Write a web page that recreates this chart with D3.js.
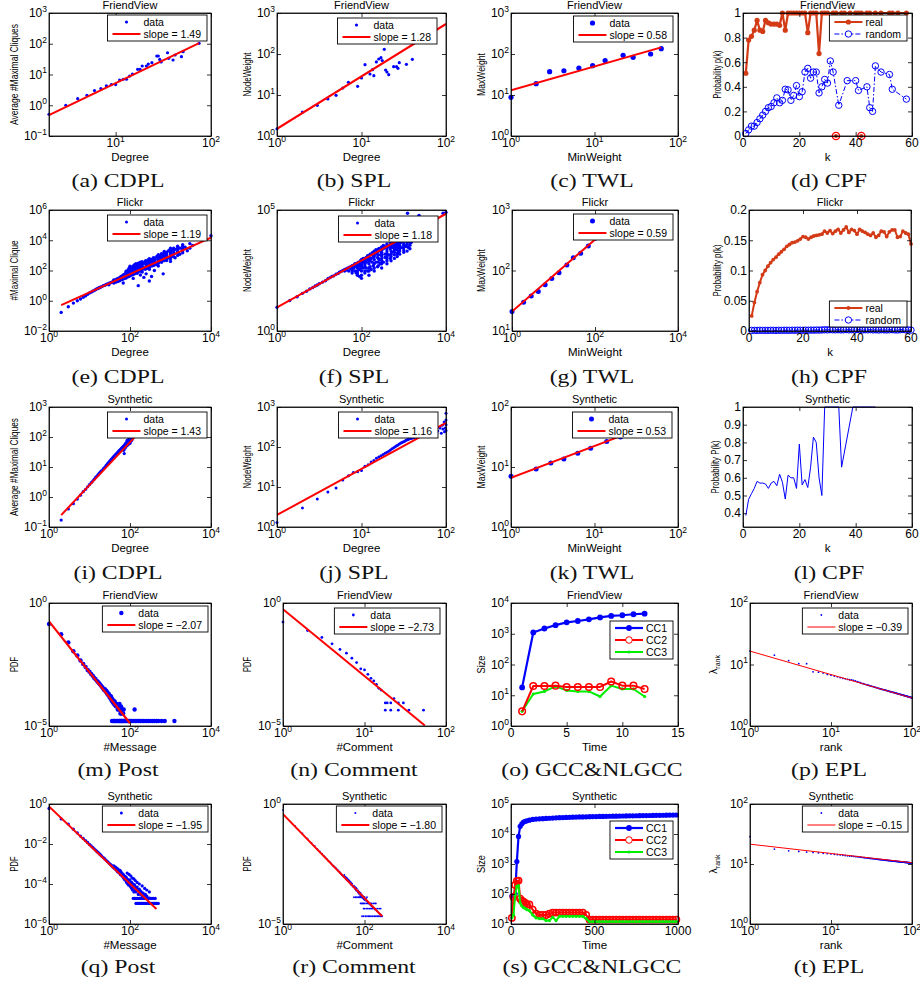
<!DOCTYPE html>
<html><head><meta charset="utf-8">
<script src="https://cdn.jsdelivr.net/npm/d3@7/dist/d3.min.js"></script>
<style>html,body{margin:0;padding:0;background:#fff;}</style>
</head><body>
<script>
// ================= DATA =================
const rowTitles=["FriendView","Flickr","Synthetic","FriendView","Synthetic"];
const captions=["(a) CDPL","(b) SPL","(c) TWL","(d) CPF","(e) CDPL","(f) SPL","(g) TWL","(h) CPF","(i) CDPL","(j) SPL","(k) TWL","(l) CPF","(m) Post","(n) Comment","(o) GCC&NLGCC","(p) EPL","(q) Post","(r) Comment","(s) GCC&NLGCC","(t) EPL"];
const slopeLabels={a:"slope = 1.49",b:"slope = 1.28",c:"slope = 0.58",e:"slope = 1.19",f:"slope = 1.18",g:"slope = 0.59",i:"slope = 1.43",j:"slope = 1.16",k:"slope = 0.53",m:"slope = \u22122.07",n:"slope = \u22122.73",p:"slope = \u22120.39",q:"slope = \u22121.95",r:"slope = \u22121.80",t:"slope = \u22120.15"};

// (a)
const aDegree=[2,3,4,5,6,7,8,9,10,11,12,13,14,15,17,18,19,21,22,24,27,28,29,30,35,36,40,42,49,51,75];
const aCliques=[0.51,1.0,1.64,2.1,3.0,3.5,4.3,4.7,4.7,6.6,7.0,7.0,8.9,10.4,14.7,14.7,18.9,18.9,21.9,24.3,40,40,31,25.5,51,33.6,29.6,43,38,55,103];
const aFit=[[2,0.48],[75,105]];
// (b)
const bDegree=[1,2,3,4,5,6,7,9,10,11,12.6,13.5,14,15,16,17,17.6,18.6,19.3,20,21,24,26,27,28,34,40];
const bWeight=[1.5,3.85,5.6,8,9.8,14.8,20.4,16.3,26,55,32.5,41.5,29.6,64,75.5,81.5,69,130,40.7,36.4,31.3,49,49,44.7,61.5,56,74];
const bFit=[[1,1.5],[100,540]];
// (c)
const cMin=[1,2,2.9,4.3,6.5,9.5,13.4,22,29,47,63];
const cMax=[8.8,18.9,37,39,45.6,52,69,93,83,100,135];
const cFit=[[1,13],[63,145]];
// (d)
const dRealK=[1,2,3,4,5,6,7,8,9,10,11,12,13,14,15,16,17,18,19,20,21,22,23,24,25,26,27,28,29,30,32,33,35,36,38,40,41,42,44,45,47,49,52,53,55,58];
const dRealP=[0.51,0.78,0.81,0.86,0.94,0.86,0.85,0.94,0.92,0.91,0.91,0.91,0.9,1,0.86,1,1,1,1,1,1,1,0.84,1,1,1,0.67,1,1,1,1,1,1,1,1,1,1,1,1,1,1,1,1,1,1,1];
const dZeroK=[33,42];
const dRandK=[1,2,3,4,5,6,7,8,9,10,11,12,13,14,15,16,17,18,19,20,21,22,23,24,25,26,27,28,29,30,31,32,34,37,40,41,44,45,46,47,49,52,53,58];
const dRandP=[0.02,0.05,0.08,0.08,0.11,0.14,0.17,0.2,0.23,0.24,0.27,0.31,0.27,0.29,0.38,0.375,0.29,0.33,0.41,0.32,0.36,0.52,0.55,0.47,0.52,0.52,0.35,0.4,0.46,0.43,0.61,0.52,0.25,0.45,0.45,0.37,0.4,0.23,0.2,0.57,0.52,0.5,0.38,0.3];
// (e)
const ePts=[[2,0.17],[3,0.4],[4,0.7],[5,1.0],[6,1.3],[7,1.7],[8,2.1],[9,2.7],[10,3.3],[11,3.7],[12,4.3],[13,4.8],[14,5.3],[15,6.0],[16,6.5],[17,7],[18,7.5],[19,8],[20,8.6],[22,9.8],[24,10.5],[26,12],[28,13],[30,14],[30,11.5],[32,15],[34,16],[36,17],[38,18],[68,15],
[40,15],[40,22],[45,17],[45,26],[50,19],[50,28],[55,21],[55,33],[60,24],[60,40],[65,26],[65,45],[70,30],[70,52],[70,38],[75,32],[75,60],[80,35],[80,90],[80,50],[85,40],[85,70],[90,45],[90,110],[90,60],[95,42],[95,140],[95,80],[100,45],[100,190],[100,100],[100,65],[110,50],[110,160],[110,80],[120,55],[120,200],[120,120],[130,60],[130,240],[130,90],[140,70],[140,170],[140,280],[150,65],[150,120],[150,220],[160,10],[160,85],[160,300],[170,95],[170,180],[180,110],[180,350],[190,90],[190,250],[200,130],[200,380],[200,80],[220,150],[220,300],[240,120],[240,420],[260,180],[260,320],[280,140],[280,500],[300,200],[300,600],[300,120],[340,40],[340,260],[340,450],[380,220],[380,700],[420,300],[420,550],[460,250],[460,850],[500,380],[500,1100],[500,200],[550,600],[550,900],[600,350],[600,1300],[660,60],[660,500],[660,1000],[700,800],[700,1800],[800,450],[800,1300],[900,700],[900,2000],[1000,400],[1000,1200],[1000,3000],[1100,900],[1100,2200],[1200,1500],[1200,3000],[1300,700],[1300,2500],[1500,1800],[1500,4000],[1700,1200],[1700,3000],[2000,2500],[2000,5000],[2300,3500],[2600,2000],[3000,6000],[3000,3000],[3500,4500],[10000,20000]];
const ePts2=[[40,16],[40,18],[40,20],[40,24],[50,20],[50,23],[50,26],[50,30],[60,25],[60,30],[60,35],[70,28],[70,34],[70,42],[70,48],[80,32],[80,40],[80,45],[80,60],[80,70],[90,38],[90,48],[90,55],[90,70],[90,85],[100,50],[100,55],[100,75],[100,85],[100,120],[100,150],[120,60],[120,70],[120,90],[120,100],[120,140],[120,170],[140,75],[140,90],[140,110],[140,130],[140,200],[140,240],[160,90],[160,100],[160,130],[160,160],[160,200],[160,250],[180,100],[180,130],[180,160],[180,200],[180,250],[180,300],[200,110],[200,150],[200,190],[200,250],[200,300],[250,140],[250,180],[250,230],[250,280],[250,350],[250,420],[300,160],[300,250],[300,300],[300,350],[300,450],[300,500],[350,200],[350,280],[350,350],[350,420],[350,550],[400,230],[400,330],[400,420],[400,500],[400,650],[500,300],[500,450],[500,550],[500,700],[500,850],[600,400],[600,550],[600,700],[600,900],[600,1100],[700,450],[700,600],[700,1000],[700,1300],[700,1500],[800,550],[800,800],[800,1000],[800,1600],[1000,600],[1000,800],[1000,1500],[1000,2000],[1000,2500],[1200,800],[1200,1200],[1200,2000],[1200,2500],[1500,1000],[1500,1500],[1500,2500],[1500,3000],[2000,1500],[2000,2000],[2000,3000],[2000,4000],[120,30],[180,50],[250,60],[400,100],[300,20],[220,35]];
const eFit=[[2,0.52],[10000,15000]];
// (f)
const fPts=[[1,9.5],[2,18],[3,26],[4,36],[5,44],[6,55],[7,62],[8,72],[9,80],[10,90],[12,105],[14,120],[16,145],[18,160],[20,180],[22,190],[25,220],[28,240],[30,270],[33,290],[36,320],[40,350],[40,300],[45,380],[45,330],[50,420],[50,300],[55,450],[55,380],[60,500],[60,350],[60,250],[65,520],[65,400],[70,600],[70,300],[70,450],[75,550],[75,250],[80,650],[80,400],[80,200],[85,500],[85,700],[90,350],[90,600],[90,180],[95,800],[95,450],[100,900],[100,600],[100,300],[100,150],[110,700],[110,400],[110,1000],[120,850],[120,250],[120,550],[130,1100],[130,700],[130,400],[140,900],[140,300],[140,1300],[150,600],[150,1100],[150,200],[160,1500],[160,800],[160,450],[170,1000],[170,350],[180,1700],[180,700],[190,1200],[190,500],[200,2000],[200,900],[200,300],[220,1500],[220,700],[220,2300],[240,1100],[240,450],[240,1800],[260,2600],[260,900],[280,1400],[280,600],[280,2200],[300,3000],[300,1800],[300,1000],[300,400],[330,2500],[330,700],[330,3400],[360,1500],[360,2800],[360,1100],[400,4000],[400,2000],[400,800],[440,3200],[440,1400],[480,4500],[480,2500],[480,1000],[520,3500],[520,1800],[560,5000],[560,2800],[600,4000],[600,1400],[650,6000],[650,3000],[700,4500],[700,2200],[750,5500],[750,1800],[800,6500],[800,3500],[850,4500],[900,7000],[900,2800],[950,5500],[1000,7500],[1000,4000],[1000,2200],[1100,6000],[1100,3200],[1200,7000],[1200,4500],[1300,5500],[1300,2800],[1400,6500],[1500,4500],[1600,5500],[1230,73000],[2300,60000],[8500,73000],[10000,80000]];
const fPts2=[[60,300],[60,400],[60,450],[80,250],[80,300],[80,500],[80,600],[100,200],[100,400],[100,500],[100,700],[100,800],[120,300],[120,450],[120,650],[120,750],[120,1000],[150,300],[150,400],[150,800],[150,900],[150,1300],[200,400],[200,600],[200,1200],[200,1500],[200,1700],[250,500],[250,700],[250,1000],[250,1400],[250,2000],[250,2400],[300,600],[300,800],[300,1300],[300,1500],[300,2200],[300,2600],[400,600],[400,1000],[400,1200],[400,1600],[400,2500],[400,3000],[400,3500],[500,800],[500,1200],[500,1500],[500,2000],[500,3000],[500,4000],[600,1000],[600,1800],[600,2200],[600,2500],[600,3000],[600,3500],[600,5000],[700,1200],[700,1600],[700,2800],[700,3500],[700,4000],[700,5000],[700,6000],[800,1500],[800,2000],[800,2500],[800,3000],[800,4000],[800,5000],[1000,1800],[1000,2800],[1000,3500],[1000,5000],[1000,6000],[1200,2000],[1200,3000],[1200,3800],[1200,5500],[1200,6500],[1400,2500],[1400,3500],[1400,4500],[1400,5500]];
const fFit=[[1,9.5],[10000,70000]];
// (g)
const gMin=[1,1.9,2.9,4.3,6.3,9.1,13.6,21,30,45,69,100];
const gMax=[21,30,38,45,58,74,92,123,163,192,254,340];
const gFit=[[1,21],[250,560]];
// (h)
const hK=d3.range(1,61);
const hReal=[0.025,0.047,0.065,0.08,0.093,0.1,0.107,0.113,0.118,0.122,0.127,0.131,0.135,0.14,0.143,0.146,0.147,0.149,0.152,0.156,0.155,0.152,0.155,0.157,0.158,0.159,0.16,0.165,0.162,0.166,0.161,0.165,0.168,0.162,0.167,0.172,0.163,0.168,0.166,0.16,0.168,0.165,0.163,0.16,0.158,0.162,0.155,0.158,0.165,0.164,0.156,0.164,0.167,0.167,0.155,0.156,0.165,0.162,0.16,0.144];
const hRand=[0.001,0.001,0.001,0.0012,0.001,0.0011,0.001,0.0012,0.0011,0.001,0.0012,0.0011,0.0013,0.0012,0.0011,0.0013,0.0012,0.0014,0.0013,0.0012,0.0014,0.0013,0.0015,0.0014,0.0016,0.0015,0.0017,0.002,0.0018,0.0022,0.002,0.0019,0.0021,0.0018,0.002,0.0023,0.0019,0.0021,0.0018,0.0024,0.002,0.0017,0.0021,0.0019,0.0022,0.0018,0.002,0.0016,0.0021,0.0019,0.0017,0.002,0.0022,0.0018,0.0016,0.0021,0.0025,0.0019,0.0017,0.0015];
// (i)
const iPts=[[2,0.17],[3,0.4],[4,0.6],[5,0.85],[6,1.15],[7,1.5],[8,1.8],[9,2.2],[10,2.6],[11,3.0],[12,3.4],[13,3.9],[14,4.4],[15,4.9],[16,5.4],[17,5.9],[18,6.5],[19,7],[20,7.6],[22,8.8],[24,10],[26,11.5],[28,13],[30,14.5],[32,16],[34,17.5],[36,19],[38,21],[40,22.5],[42,24],[44,26],[46,27.5],[48,29],[50,31],[52,33],[54,35],[56,36],[58,38],[60,40],[60,35],[62,42],[64,44],[64,38],[66,46],[68,48],[68,40],[70,50],[70,44],[72,52],[72,28],[74,55],[74,46],[76,57],[76,50],[78,60],[78,52],[80,62],[80,55],[82,65],[82,57],[84,68],[84,60],[86,70],[86,62],[88,73],[88,64],[90,76],[90,66],[92,80],[92,70],[94,82],[94,72],[96,85],[96,60],[98,88],[98,75],[100,92],[100,80],[100,70],[105,95],[105,85],[110,100],[110,90],[115,110],[120,120],[125,130],[130,140],[70,36],[75,42],[80,48],[85,52],[90,56],[95,64],[100,62],[105,72],[110,78],[115,90],[120,100],[85,78],[95,92],[105,110]];
const iFit=[[2,0.25],[150,120]];
// (j)
const jPts=[[1,1.3],[2,3.0],[3,5.0],[4,7.5],[5,9.5],[6,15],[7,19],[8,23],[9,24],[10,26],[11,33],[12,36],[13,42],[14,46],[15,52],[16,56],[17,60],[18,65],[19,70],[20,74],[21,78],[22,84],[23,90],[24,96],[25,102],[26,108],[27,113],[28,118],[29,124],[30,130],[31,134],[32,138],[33,144],[34,150],[35,152],[36,156],[37,160],[38,162],[39,165],[40,168],[42,172],[44,178],[46,182],[48,190],[50,195],[52,200],[55,190],[58,210],[60,200],[62,215],[65,220],[68,185],[70,230],[75,210],[80,250],[85,300],[88,220],[90,350],[92,280],[95,420],[96,240],[98,300],[100,700],[100,470],[100,360],[100,260]];
const jFit=[[1,2],[100,400]];
// (k)
const kMin=[1,2,3,4.3,6.3,9,14,20.5];
const kMax=[7.0,9.3,11.7,13.6,17,20.6,26.5,31.5];
const kFit=[[1,6.6],[40,46.7]];
// (l)
const lK=[1,2,3,4,5,6,7,8,9,10,11,12,13,14,15,16,17,18,19,20,21,22,23,24,25,26,27,28,29,30,31,32,33,34,35,39,40,41,42,43,44,45,46,47];
const lP=[0.387,0.478,0.51,0.54,0.58,0.57,0.57,0.565,0.54,0.57,0.58,0.555,0.62,0.575,0.48,0.615,0.6,0.6,0.54,0.79,0.56,0.59,0.545,0.66,0.83,0.8,0.6,0.5,1,1,1,1,1,1,0.66,1,1,1,1,1,1,1,1,1];
// (m)
const mPts=[[1,0.14],[2,0.054],[3,0.025],[4,0.011],[5,0.0073],[6,0.0046],[7,0.0033],[8,0.0025],[9,0.0019],[10,0.0016],[11,0.0013],[12,0.0011],[13,0.00092],[14,0.00082],[15,0.0007],[16,0.00063],[17,0.00056],[18,0.0005],[19,0.00045],[20,0.0004],[21,0.00037],[22,0.00033],[23,0.00029],[24,0.00031],[25,0.00025],[26,0.00027],[27,0.00021],[28,0.00023],[29,0.00018],[30,0.0002],[31,0.00015],[32,0.00017],[33,0.00013],[34,0.00016],[35,0.00011],[36,0.00013],[37,0.0001],[38,0.00009],[39,0.00011],[40,0.00008],[42,0.0001],[43,0.00007],[44,0.00008],[45,0.000063],[47,0.000079],[48,0.000063],[50,0.000047],[52,0.000063],[53,0.000047],[55,0.000079],[57,0.000047],[58,0.000032],[60,0.000063],[62,0.000032],[65,0.000047],[68,0.000032],[70,0.000047],[130,0.000047],
[36,1.6e-5],[39,1.6e-5],[41,1.6e-5],[43,1.6e-5],[46,1.6e-5],[49,1.6e-5],[51,1.6e-5],[54,1.6e-5],[56,1.6e-5],[59,1.6e-5],[61,1.6e-5],[63,1.6e-5],[66,1.6e-5],[69,1.6e-5],[72,1.6e-5],[75,1.6e-5],[80,1.6e-5],[85,1.6e-5],[90,1.6e-5],[95,1.6e-5],[100,1.6e-5],[110,1.6e-5],[120,1.6e-5],[135,1.6e-5],[150,1.6e-5],[165,1.6e-5],[180,1.6e-5],[200,1.6e-5],[220,1.6e-5],[250,1.6e-5],[280,1.6e-5],[320,1.6e-5],[360,1.6e-5],[400,1.6e-5],[450,1.6e-5],[500,1.6e-5],[600,1.6e-5],[720,1.6e-5],[1250,1.6e-5]];
const mFit=[[1,0.18],[100,1.3e-5]];
// (n)
const nPts=[[1,0.168],[2,0.076],[3,0.04],[4,0.022],[5,0.013],[6,0.0091],[7,0.0057],[8,0.0038],[9,0.0021],[10,0.0019],[11,0.00126],[12,0.00087],[13,0.00068],[14,0.00049],[15,0.00034],[16,0.00029],[18,0.000087],[19,0.000087],[21,0.000087],[23,0.00013],[26,0.000087],[30,0.000087],[18,0.000044],[21,0.000044],[26,0.000044],[35,0.000044],[53,0.000044]];
const nFit=[[1,0.56],[55,1.05e-5]];
// (o)
const oTime=[1,2,3,4,5,6,7,8,9,10,11,12];
const oCC1=[18,1100,1480,1900,2350,2600,2950,3400,3800,4000,4300,4500];
const oCC2=[3,20,20,20.5,18.6,18.6,18.6,18.6,28,20.5,20.5,16];
const oCC3=[3,11,13.3,19.5,14.4,13.3,13.3,9.1,20.5,16,16,9.1];
// (p)
const pLambda=[16.5,14.2,11.6,10.3,10.3,7.6,7.5,7.3,6.9,6.7,6.5,6.3,6.1,5.95,5.85,5.75,5.65,5.6,5.5,5.4,5.25,5.15,5.05,4.95,4.87,4.8,4.72,4.65,4.6,4.53,4.47,4.42,4.37,4.32,4.27,4.22,4.17,4.13,4.09,4.05,4.01,3.98,3.94,3.91,3.88,3.85,3.82,3.79,3.76,3.73,3.7,3.67,3.65,3.62,3.6,3.58,3.55,3.53,3.51,3.49,3.47,3.45,3.43,3.41,3.39,3.37,3.35,3.33,3.31,3.29,3.27,3.26,3.24,3.22,3.21,3.19,3.18,3.16,3.15,3.13,3.12,3.1,3.09,3.07,3.06,3.05,3.03,3.02,3.01,2.99,2.98,2.97,2.96,2.94,2.93,2.92,2.91,2.9,2.89,2.88];
const pFit=[[1,16.5],[100,2.85]];
// (q)
const qPts=[[1,0.6],[2,0.18],[3,0.1],[4,0.055],[5,0.036],[6,0.025],[7,0.019],[8,0.015],[9,0.012],[10,0.0095],[11,0.008],[12,0.0068],[13,0.0058],[14,0.005],[15,0.0044],[16,0.0039],[17,0.0035],[18,0.0031],[19,0.0028],[20,0.0025],[22,0.0021],[24,0.0018],[26,0.0015],[28,0.0013],[30,0.00115],[32,0.001],[34,0.0009],[36,0.0008],[38,0.0007],[40,0.00065],[40,0.0008],[42,0.0006],[44,0.00055],[44,0.0007],[46,0.0005],[48,0.00045],[48,0.0006],[50,0.0004],[50,0.00055],[52,0.0004],[55,0.00035],[55,0.0005],[58,0.0003],[58,0.00045],[60,0.00028],[60,0.0004],[62,0.00035],[65,0.00025],[65,0.00032],[68,0.00022],[68,0.0003],[70,0.0002],[70,0.00027],[72,0.00018],[75,0.00024],[75,0.00016],[78,0.0002],[80,0.00015],[80,0.00022],[82,0.00012],[85,0.00018],[85,0.00013],[88,0.0001],[90,0.00016],[90,0.00012],[92,0.00009],[95,0.00014],[95,0.0001],[100,0.00012],[100,0.00008],[100,0.00016],[105,0.00007],[105,0.0001],[110,0.00012],[110,0.00006],[115,0.00009],[115,0.00005],[120,0.0001],[120,0.00007],[125,0.00004],[125,0.00008],[130,0.00006],[130,0.00009],[135,0.00005],[140,0.00007],[140,0.00004],[145,0.00006],[150,0.000045],[150,0.00007],[160,0.00005],[160,0.00003],[170,0.00004],[170,0.000055],[180,0.00003],[180,0.000045],[190,0.00004],[200,0.00003],[200,0.000025],[210,0.000035],[220,0.00003],[230,0.000025],[240,0.00003],[250,0.00002],[260,0.000025],[280,0.00002],[300,0.00002],
[85,0.00035],[95,0.0003],[105,0.00025],[115,0.0002],[125,0.00018],[135,0.00015],[150,0.00012],[170,0.0001],[200,0.00008],[230,0.00006],[260,0.00005],[300,0.00004],
[140,1.07e-5],[150,1.07e-5],[160,1.07e-5],[170,1.07e-5],[180,1.07e-5],[190,1.07e-5],[200,1.07e-5],[215,1.07e-5],[230,1.07e-5],[245,1.07e-5],[260,1.07e-5],[280,1.07e-5],[300,1.07e-5],[320,1.07e-5],[340,1.07e-5],[360,1.07e-5],[380,1.07e-5],[400,1.07e-5],[430,1.07e-5],[460,1.07e-5],[500,1.07e-5],
[120,1.9e-5],[130,1.9e-5],[140,1.9e-5],[155,1.9e-5],[170,1.9e-5],[185,1.9e-5],[200,1.9e-5],[220,1.9e-5],[240,1.9e-5],[260,1.9e-5],[290,1.9e-5],[320,1.9e-5],[350,1.9e-5],[380,1.9e-5],[420,1.9e-5]];
const qFit=[[1,0.76],[450,5.6e-6]];
// (r)
const rPts=[[1,0.56],[2,0.12],[3,0.06],[4,0.036],[5,0.024],[6,0.018],[7,0.013],[8,0.0105],[9,0.0085],[10,0.007],[11,0.006],[12,0.005],[13,0.0044],[14,0.0039],[15,0.0034],[16,0.003],[17,0.0027],[18,0.0025],[19,0.0023],[20,0.0021],[21,0.0019],[22,0.0018],[23,0.0016],[24,0.0015],[25,0.0014],[26,0.0013],[27,0.0012],[28,0.0011],[29,0.00105],[30,0.001],[32,0.0009],[32,0.0011],[34,0.0008],[34,0.00095],[36,0.00072],[36,0.00085],[38,0.00065],[38,0.0008],[40,0.0006],[40,0.0007],[42,0.00055],[42,0.00065],[44,0.0005],[44,0.0006],[46,0.00045],[46,0.00055],[48,0.00042],[48,0.0005],[50,0.0004],[50,0.00047],[52,0.00036],[55,0.00034],[55,0.0004],[58,0.0003],[58,0.00036],[60,0.00028],[62,0.00033],[62,0.00025],[65,0.00024],[65,0.0003],[68,0.00022],[70,0.00025],[70,0.0002],[73,0.00018],[75,0.00022],[78,0.00016],[80,0.0002],[80,0.00014],[85,0.00017],[85,0.00013],[90,0.00015],[90,0.00012],[95,0.00011],[100,0.00013],[100,0.0001],[110,0.00009],[110,0.00011],[120,0.00008],[130,0.00007],[140,0.00006],[150,0.000055],[160,0.00005],[170,0.000045],[180,0.00004],[200,0.000035],[220,0.00003],[250,0.000025],
[55,0.00013],[60,0.00013],[65,0.00013],[70,0.00013],[75,0.00013],[80,0.00013],[90,0.00013],[100,0.00013],[115,0.00013],
[80,7.2e-5],[85,7.2e-5],[90,7.2e-5],[95,7.2e-5],[100,7.2e-5],[110,7.2e-5],[120,7.2e-5],[130,7.2e-5],[140,7.2e-5],[150,7.2e-5],[165,7.2e-5],[180,7.2e-5],[190,7.2e-5],
[95,4.4e-5],[100,4.4e-5],[110,4.4e-5],[120,4.4e-5],[130,4.4e-5],[140,4.4e-5],[150,4.4e-5],[160,4.4e-5],[175,4.4e-5],[190,4.4e-5],[210,4.4e-5],[230,4.4e-5],[250,4.4e-5],
[87,2.1e-5],[95,2.1e-5],[105,2.1e-5],[115,2.1e-5],[125,2.1e-5],[135,2.1e-5],[145,2.1e-5],[160,2.1e-5],[175,2.1e-5],[190,2.1e-5],[205,2.1e-5],[220,2.1e-5],[240,2.1e-5],[255,2.1e-5],[270,2.1e-5]];
const rFit=[[1,0.38],[270,2.1e-5]];
// (s)
const sTime=[5,15,25,35,45,55,65,75,85,95,110,130,150,170,190,210,230,250,270,290,310,330,350,370,390,410,430,450,470,490,510,530,550,570,590,610,630,650,670,690,710,730,750,770,790,810,830,850,870,890,910,930,950,970,990];
const sCC1=[85,90,100,1200,8300,18000,22000,25000,26500,27500,29000,30500,31500,32000,32500,33000,33500,34000,34500,35000,35300,35600,36000,36300,36600,37000,37200,37500,37700,38000,38200,38400,38600,38800,39000,39200,39400,39600,39800,40000,40200,40400,40600,40800,41000,41200,41400,41600,41800,42000,42200,42400,42600,42800,43000];
const sCC2=[16,80,200,270,280,70,60,55,50,45,45,30,22,20,20,20,22,24,24,24,24,24,24,24,24,24,24,20,14,14,14,14,14,14,14,14,14,14,14,14,14,14,14,14,14,14,14,14,14,14,14,14,14,14,14];
const sCC3=[16,20,90,180,190,50,40,35,33,30,28,20,16,15,15,13,13,17,13,18,18,18,18,18,18,18,18,15,12,12,12,12,12,12,12,12,12,12,12,12,12,12,12,12,12,12,12,12,12,12,12,12,12,12,12];
// (t)
const tLambda=[28.7,17.7,16.6,16.2,15.8,15.6,15.4,15.1,14.9,14.7,14.5,14.3,14.15,14.0,13.85,13.7,13.6,13.5,13.4,13.3,13.2,13.1,13.0,12.9,12.8,12.72,12.64,12.56,12.49,12.42,12.36,12.3,12.24,12.18,12.12,12.07,12.02,11.97,11.92,11.87,11.82,11.78,11.74,11.7,11.66,11.62,11.58,11.54,11.5,11.47,11.44,11.41,11.38,11.35,11.32,11.29,11.26,11.23,11.2,11.17,11.14,11.11,11.08,11.06,11.04,11.01,10.99,10.97,10.94,10.92,10.9,10.88,10.86,10.84,10.82,10.8,10.78,10.76,10.74,10.72,10.7,10.68,10.66,10.64,10.63,10.61,10.59,10.58,10.56,10.55,10.53,10.51,10.5,10.48,10.47,10.45,10.44,10.42,10.41,10.4];
const tFit=[[1,21.4],[100,10.5]];

// ================= DRAWING =================
const W=920,H=989;
const SANS="'Liberation Sans', Arial, Helvetica, sans-serif";
const SERIF="'Liberation Serif', 'Times New Roman', serif";
const BLUE="#0000ff", RED="#ff0000", GREEN="#00ee00", REAL="#d33a16";
const FS=12, LFS=10.5, LROW=12;
const svg=d3.select('body').append('svg').attr('width',W).attr('height',H).attr('font-family',SANS);
svg.append('rect').attr('width',W).attr('height',H).attr('fill','#fff');
const rowT=[13,210,407,603,804], rowB=[136,331,527,726,924];
const capX=[118,354,592,829], capY=[187,383,579,776,973];
let clipN=0;

function makePanel(c){
  c.T=rowT[c.row]; c.B=rowB[c.row];
  const x=(c.xt==='log'?d3.scaleLog():d3.scaleLinear()).domain(c.xd).range([c.L,c.R]);
  const y=(c.yt==='log'?d3.scaleLog():d3.scaleLinear()).domain(c.yd).range([c.B,c.T]);
  const root=svg.append('g');
  const id='clip'+(clipN++);
  root.append('clipPath').attr('id',id).append('rect').attr('x',c.L).attr('y',c.T).attr('width',c.R-c.L).attr('height',c.B-c.T);
  const marks=root.append('g');
  const clipped=root.append('g').attr('clip-path',`url(#${id})`);
  const over=root.append('g');
  const frame=root.append('g');
  const leg=root.append('g');
  const p={c,x,y,marks,clipped,over,frame,leg};
  drawFrame(p);
  return p;
}
function expLabel(t,v){
  const e=Math.round(Math.log10(v));
  t.append('tspan').text('10');
  t.append('tspan').attr('font-size',8.5).attr('dy',-5.5).text(e<0?'\u2212'+(-e):String(e));
}
function drawFrame(p){
  const {c,x,y}=p, g=p.frame, tk=4;
  const st=s=>{s.selectAll('path,line').attr('stroke','#000').attr('stroke-width',0.8);s.selectAll('text').remove();};
  g.append('g').attr('transform',`translate(0,${c.B})`).call(d3.axisBottom(x).tickValues(c.xk).tickSizeInner(-tk).tickSizeOuter(0)).call(st);
  g.append('g').attr('transform',`translate(0,${c.T})`).call(d3.axisTop(x).tickValues(c.xk).tickSizeInner(-tk).tickSizeOuter(0)).call(st);
  g.append('g').attr('transform',`translate(${c.L},0)`).call(d3.axisLeft(y).tickValues(c.yk).tickSizeInner(-tk).tickSizeOuter(0)).call(st);
  g.append('g').attr('transform',`translate(${c.R},0)`).call(d3.axisRight(y).tickValues(c.yk).tickSizeInner(-tk).tickSizeOuter(0)).call(st);
  g.append('rect').attr('x',c.L).attr('y',c.T).attr('width',c.R-c.L).attr('height',c.B-c.T).attr('fill','none').attr('stroke','#000').attr('stroke-width',0.8);
  c.xk.forEach((v,i)=>{
    const t=g.append('text').attr('x',x(v)).attr('y',c.B+11).attr('text-anchor','middle').attr('font-size',FS);
    if(c.xt==='log') expLabel(t,v); else t.text(c.xf?c.xf[i]:String(v));
  });
  c.yk.forEach((v,i)=>{
    const t=g.append('text').attr('x',c.L-2).attr('y',y(v)+4.3).attr('text-anchor','end').attr('font-size',FS);
    if(c.yt==='log') expLabel(t,v); else t.text(c.yf?c.yf[i]:String(v));
  });
  g.append('text').attr('x',(c.L+c.R)/2).attr('y',c.T-4.5).attr('text-anchor','middle').attr('font-size',11).text(c.title);
  g.append('text').attr('x',(c.L+c.R)/2).attr('y',c.B+24.5).attr('text-anchor','middle').attr('font-size',11.5).text(c.xl);
  const yl=g.append('text').attr('transform',`translate(${c.ylx},${(c.T+c.B)/2}) rotate(-90)`).attr('text-anchor','middle').attr('dy','0.35em').attr('font-size',10.5);
  if(c.yl==='lambda'){
    yl.append('tspan').text('\u03bb');
    yl.append('tspan').attr('font-size',7).attr('dy',3).text('rank');
  } else {
    yl.text(c.yl);
    if(c.yll) yl.attr('textLength',c.yll).attr('lengthAdjust','spacingAndGlyphs');
  }
  const cap=svg.append('text').attr('x',capX[c.col]).attr('y',capY[c.row]).attr('text-anchor','middle').attr('font-family',SERIF).attr('font-size',19).attr('fill','#111').text(c.cap);
  const nl=cap.node().getComputedTextLength();
  cap.attr('textLength',nl*1.25).attr('lengthAdjust','spacingAndGlyphs');
}
function dots(p,xs,ys,r,color){
  p.marks.selectAll(null).data(d3.zip(xs,ys)).join('circle')
    .attr('cx',d=>p.x(d[0])).attr('cy',d=>p.y(d[1])).attr('r',r).attr('fill',color||BLUE);
}
function dotsPts(p,pts,r){ dots(p,pts.map(d=>d[0]),pts.map(d=>d[1]),r); }
function fitLine(p,pts,w){
  p.clipped.append('path').attr('d',d3.line().x(d=>p.x(d[0])).y(d=>p.y(d[1]))(pts))
    .attr('fill','none').attr('stroke',RED).attr('stroke-width',w||2);
}
function series(p,xs,ys,o){
  const pts=d3.zip(xs,ys);
  p.over.append('path').attr('d',d3.line().x(d=>p.x(d[0])).y(d=>p.y(d[1]))(pts))
    .attr('fill','none').attr('stroke',o.color).attr('stroke-width',o.w).attr('stroke-dasharray',o.dash||null).attr('stroke-linejoin','round');
  if(o.marker){
    p.over.selectAll(null).data(pts).join('circle').attr('cx',d=>p.x(d[0])).attr('cy',d=>p.y(d[1])).attr('r',o.marker.r)
      .attr('fill',o.marker.open?'none':o.color).attr('stroke',o.marker.open?o.color:'none').attr('stroke-width',o.marker.sw||1);
  }
}
function legend(p,entries,o){
  const c=p.c, g=p.leg;
  const texts=entries.map(e=>g.append('text').attr('font-size',LFS).text(e.label));
  const tw=d3.max(texts,t=>t.node().getComputedTextLength());
  const w=36+tw+6, h=entries.length*LROW+2;
  const bx=c.R-(o.dx||5)-w;
  const by=o.bottom? c.B-(o.dy||4)-h : c.T+(o.dy===undefined?3:o.dy);
  g.insert('rect','text').attr('x',bx).attr('y',by).attr('width',w).attr('height',h).attr('fill','#fff').attr('stroke','#000').attr('stroke-width',0.9);
  entries.forEach((e,i)=>{
    const cy=by+7+i*LROW;
    texts[i].attr('x',bx+36).attr('y',cy+3.8);
    if(e.line) g.append('line').attr('x1',bx+5).attr('x2',bx+33).attr('y1',cy).attr('y2',cy).attr('stroke',e.line.color).attr('stroke-width',e.line.w).attr('stroke-dasharray',e.line.dash||null);
    if(e.marker) g.append('circle').attr('cx',bx+19).attr('cy',cy).attr('r',e.marker.r)
      .attr('fill',e.marker.open?'#fff':e.marker.color).attr('stroke',e.marker.open?e.marker.color:'none').attr('stroke-width',1);
  });
}
function slopeLegend(p,key,r,lw,o){
  legend(p,[{label:'data',marker:{r:r,color:BLUE}},{label:slopeLabels[key],line:{color:RED,w:lw}}],o||{});
}
const dec=(a,b)=>{const r=[];for(let e=a;e<=b;e++)r.push(Math.pow(10,e));return r;};

// ---- Row 1 ----
let p;
p=makePanel({row:0,col:0,cap:captions[0],L:49,R:211,xt:'log',xd:[2,100],xk:[10,100],yt:'log',yd:[0.1,1000],yk:dec(-1,3),title:rowTitles[0],xl:'Degree',yl:'Average #Maximal Cliques',yll:101,ylx:14});
dots(p,aDegree,aCliques,1.6); fitLine(p,aFit,2); slopeLegend(p,'a',1.6,2,{dx:4,dy:2});
p=makePanel({row:0,col:1,cap:captions[1],L:277,R:446,xt:'log',xd:[1,100],xk:dec(0,2),yt:'log',yd:[1,1000],yk:dec(0,3),title:rowTitles[0],xl:'Degree',yl:'NodeWeight',yll:44,ylx:247});
dots(p,bDegree,bWeight,1.6); fitLine(p,bFit,2); slopeLegend(p,'b',1.6,2,{dx:9,dy:5});
p=makePanel({row:0,col:2,cap:captions[2],L:511,R:678,xt:'log',xd:[1,100],xk:dec(0,2),yt:'log',yd:[1,1000],yk:dec(0,3),title:rowTitles[0],xl:'MinWeight',yl:'MaxWeight',yll:43,ylx:481});
dots(p,cMin,cMax,2.6); fitLine(p,cFit,2); slopeLegend(p,'c',2.6,2,{dx:5,dy:3});
p=makePanel({row:0,col:3,cap:captions[3],L:743,R:912,xt:'lin',xd:[0,60],xk:[0,20,40,60],yt:'lin',yd:[0,1],yk:[0,0.2,0.4,0.6,0.8,1],yf:['0','0.2','0.4','0.6','0.8','1'],title:rowTitles[0],xl:'k',yl:'Probability p(k)',yll:48,ylx:717});
series(p,dRandK,dRandP,{color:BLUE,w:1,dash:'5,2,1.5,2',marker:{r:3.2,open:true}});
series(p,dRealK,dRealP,{color:REAL,w:2.2,marker:{r:2.6}});
p.over.selectAll(null).data(dZeroK).join('circle').attr('cx',d=>p.x(d)).attr('cy',p.y(0)).attr('r',3.6).attr('fill','#fff').attr('stroke',RED).attr('stroke-width',1.4);
p.over.selectAll(null).data(dZeroK).join('circle').attr('cx',d=>p.x(d)).attr('cy',p.y(0)).attr('r',2).attr('fill',REAL);
legend(p,[{label:'real',line:{color:REAL,w:2},marker:{r:2.6,color:REAL}},{label:'random',line:{color:BLUE,w:1,dash:'5,2,1.5,2'},marker:{r:3.2,color:BLUE,open:true}}],{dx:5,dy:2});

// ---- Row 2 ----
p=makePanel({row:1,col:0,cap:captions[4],L:49,R:211,xt:'log',xd:[1,10000],xk:[1,100,10000],yt:'log',yd:[0.01,1e6],yk:[0.01,1,100,1e4,1e6],title:rowTitles[1],xl:'Degree',yl:'#Maximal Clique',yll:60,ylx:14});
dotsPts(p,ePts.concat(ePts2),1.7); fitLine(p,eFit,2); slopeLegend(p,'e',1.5,2,{dx:4,dy:5});
p=makePanel({row:1,col:1,cap:captions[5],L:277,R:446,xt:'log',xd:[1,10000],xk:[1,100,10000],yt:'log',yd:[1,1e5],yk:[1,1e5],title:rowTitles[1],xl:'Degree',yl:'NodeWeight',yll:43,ylx:247});
dotsPts(p,fPts.concat(fPts2),1.7); fitLine(p,fFit,2); slopeLegend(p,'f',1.5,2,{dx:8,dy:6});
p=makePanel({row:1,col:2,cap:captions[6],L:512,R:678,xt:'log',xd:[1,10000],xk:[1,100,10000],yt:'log',yd:[10,1000],yk:[10,100,1000],title:rowTitles[1],xl:'MinWeight',yl:'MaxWeight',yll:43,ylx:481});
dots(p,gMin,gMax,2.5); fitLine(p,gFit,2); slopeLegend(p,'g',2.5,2,{dx:5,dy:4});
p=makePanel({row:1,col:3,cap:captions[7],L:749,R:911,xt:'lin',xd:[0,60],xk:[0,20,40,60],yt:'lin',yd:[0,0.2],yk:[0,0.05,0.1,0.15,0.2],yf:['0','0.05','0.1','0.15','0.2'],title:rowTitles[1],xl:'k',yl:'Probability p(k)',yll:52,ylx:717});
series(p,hK,hRand,{color:BLUE,w:1,dash:'5,2,1.5,2',marker:{r:3.2,open:true}});
series(p,hK,hReal,{color:REAL,w:2,marker:{r:1.9}});
legend(p,[{label:'real',line:{color:REAL,w:2},marker:{r:1.9,color:REAL}},{label:'random',line:{color:BLUE,w:1,dash:'5,2,1.5,2'},marker:{r:3.2,color:BLUE,open:true}}],{dx:4,dy:4,bottom:true});

// ---- Row 3 ----
p=makePanel({row:2,col:0,cap:captions[8],L:49,R:211,xt:'log',xd:[1,10000],xk:[1,100,10000],yt:'log',yd:[0.1,1000],yk:dec(-1,3),title:rowTitles[2],xl:'Degree',yl:'Average #Maximal Cliques',yll:98,ylx:14});
dotsPts(p,iPts,1.6); fitLine(p,iFit,2); slopeLegend(p,'i',1.5,2,{dx:4,dy:5});
p=makePanel({row:2,col:1,cap:captions[9],L:277,R:446,xt:'log',xd:[1,100],xk:dec(0,2),yt:'log',yd:[1,1000],yk:dec(0,3),title:rowTitles[2],xl:'Degree',yl:'NodeWeight',yll:43,ylx:247});
dotsPts(p,jPts,1.5); fitLine(p,jFit,2); slopeLegend(p,'j',1.5,2,{dx:8,dy:5});
p=makePanel({row:2,col:2,cap:captions[10],L:511,R:678,xt:'log',xd:[1,100],xk:dec(0,2),yt:'log',yd:[1,100],yk:dec(0,2),title:rowTitles[2],xl:'MinWeight',yl:'MaxWeight',yll:43,ylx:481});
dots(p,kMin,kMax,2.5); fitLine(p,kFit,2); slopeLegend(p,'k',2.5,2,{dx:6,dy:5});
p=makePanel({row:2,col:3,cap:captions[11],L:743,R:912,xt:'lin',xd:[0,60],xk:[0,20,40,60],yt:'lin',yd:[0.322,1],yk:[0.4,0.5,0.6,0.7,0.8,0.9,1],yf:['0.4','0.5','0.6','0.7','0.8','0.9','1'],title:rowTitles[2],xl:'k',yl:'Probability P(k)',yll:53,ylx:715});
series(p,lK,lP,{color:BLUE,w:1});

// ---- Row 4 ----
p=makePanel({row:3,col:0,cap:captions[12],L:49,R:211,xt:'log',xd:[1,10000],xk:[1,100,10000],yt:'log',yd:[1e-5,1],yk:[1e-5,1],title:rowTitles[3],xl:'#Message',yl:'PDF',yll:15,ylx:14});
dotsPts(p,mPts,2.2); fitLine(p,mFit,2.2); slopeLegend(p,'m',2.2,2,{dx:3,dy:3});
p=makePanel({row:3,col:1,cap:captions[13],L:283,R:446,xt:'log',xd:[1,100],xk:dec(0,2),yt:'log',yd:[1e-5,1],yk:[1e-5,1],title:rowTitles[3],xl:'#Comment',yl:'PDF',yll:15,ylx:247});
dotsPts(p,nPts,1.4); fitLine(p,nFit,2); slopeLegend(p,'n',1.4,2,{dx:6,dy:5});
p=makePanel({row:3,col:2,cap:captions[14],L:511,R:678,xt:'lin',xd:[0,15],xk:[0,5,10,15],yt:'log',yd:[1,10000],yk:dec(0,4),title:rowTitles[3],xl:'Time',yl:'Size',yll:18,ylx:481});
series(p,oTime,oCC3,{color:GREEN,w:2,marker:{r:1.6}});
series(p,oTime,oCC2,{color:RED,w:2,marker:{r:3.3,open:true,sw:1.5}});
series(p,oTime,oCC1,{color:BLUE,w:2.2,marker:{r:2.9}});
legend(p,[{label:'CC1',line:{color:BLUE,w:2.2},marker:{r:2.9,color:BLUE}},{label:'CC2',line:{color:RED,w:2},marker:{r:3.3,color:RED,open:true}},{label:'CC3',line:{color:GREEN,w:2},marker:{r:1.6,color:GREEN}}],{dx:5,dy:18});
p=makePanel({row:3,col:3,cap:captions[15],L:750,R:912,xt:'log',xd:[1,100],xk:dec(0,2),yt:'log',yd:[1,100],yk:dec(0,2),title:rowTitles[3],xl:'rank',yl:'lambda',ylx:713});
dots(p,d3.range(1,pLambda.length+1),pLambda,0.9); fitLine(p,pFit,1); slopeLegend(p,'p',0.9,1,{dx:4,dy:5});

// ---- Row 5 ----
p=makePanel({row:4,col:0,cap:captions[16],L:49,R:211,xt:'log',xd:[1,10000],xk:[1,100,10000],yt:'log',yd:[1e-6,1],yk:[1e-6,1e-4,1e-2,1],title:rowTitles[4],xl:'#Message',yl:'PDF',yll:15,ylx:14});
dotsPts(p,qPts,1.6); fitLine(p,qFit,2); slopeLegend(p,'q',1.5,2,{dx:3,dy:2});
p=makePanel({row:4,col:1,cap:captions[17],L:283,R:446,xt:'log',xd:[1,10000],xk:[1,100,10000],yt:'log',yd:[1e-5,1],yk:[1e-5,1],title:rowTitles[4],xl:'#Comment',yl:'PDF',yll:15,ylx:247});
dotsPts(p,rPts,0.9); fitLine(p,rFit,2); slopeLegend(p,'r',1.0,2,{dx:4,dy:2});
p=makePanel({row:4,col:2,cap:captions[18],L:511,R:678,xt:'lin',xd:[0,1000],xk:[0,500,1000],yt:'log',yd:[10,1e5],yk:dec(1,5),title:rowTitles[4],xl:'Time',yl:'Size',yll:18,ylx:481});
series(p,sTime,sCC1,{color:BLUE,w:2.2,marker:{r:2.6}});
series(p,sTime,sCC2,{color:RED,w:2,marker:{r:3.2,open:true,sw:1.5}});
series(p,sTime,sCC3,{color:GREEN,w:2,marker:{r:1.6}});
legend(p,[{label:'CC1',line:{color:BLUE,w:2.2},marker:{r:2.9,color:BLUE}},{label:'CC2',line:{color:RED,w:2},marker:{r:3.3,color:RED,open:true}},{label:'CC3',line:{color:GREEN,w:2},marker:{r:1.6,color:GREEN}}],{dx:5,dy:17});
p=makePanel({row:4,col:3,cap:captions[19],L:750,R:912,xt:'log',xd:[1,100],xk:dec(0,2),yt:'log',yd:[1,100],yk:dec(0,2),title:rowTitles[4],xl:'rank',yl:'lambda',ylx:713});
dots(p,d3.range(1,tLambda.length+1),tLambda,0.9); fitLine(p,tFit,1); slopeLegend(p,'t',0.9,1,{dx:4,dy:2});
</script>
</body></html>
